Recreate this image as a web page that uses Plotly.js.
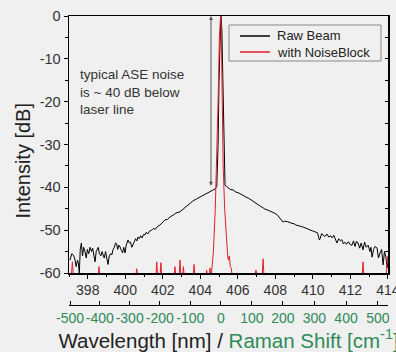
<!DOCTYPE html>
<html>
<head>
<meta charset="utf-8">
<script src="https://cdn.plot.ly/plotly-3.0.1.min.js"></script>
<style>
html,body{margin:0;padding:0;background:#f0f0f0;}
#chart{width:396px;height:352px;}
</style>
</head>
<body>
<div id="chart"></div>
<script>
// Raw Beam spectrum (wavelength nm, intensity dB)
const wlRaw = [397.05,397.15,397.23,397.30,397.38,397.45,397.50,397.55,397.60,397.66,397.72,397.78,397.85,397.92,397.98,398.05,398.12,398.20,398.26,398.32,398.39,398.45,398.50,398.56,398.62,398.70,398.76,398.81,398.88,398.95,399.02,399.08,399.15,399.22,399.28,399.35,399.42,399.48,399.54,399.60,399.66,399.72,399.80,399.86,399.92,399.99,400.05,400.10,400.15,400.22,400.28,400.35,400.41,400.48,400.55,400.62,400.68,400.75,400.82,400.90,400.98,401.05,401.12,401.20,401.30,401.41,401.50,401.60,401.70,401.85,401.95,402.05,402.12,402.25,402.39,402.55,402.70,402.92,403.10,403.25,403.45,403.60,403.80,403.99,404.15,404.30,404.52,404.65,404.79,404.88,404.95,405.00,405.05,405.10,405.15,405.20,405.25,405.32,405.40,405.50,405.60,405.75,405.90,406.05,406.15,406.28,406.45,406.60,406.81,406.95,407.10,407.35,407.45,407.60,407.72,407.85,407.99,408.10,408.25,408.41,408.50,408.65,408.89,409.00,409.10,409.21,409.35,409.50,409.69,409.85,410.00,410.12,410.25,410.35,410.39,410.47,410.55,410.65,410.75,410.85,410.95,411.03,411.12,411.20,411.29,411.38,411.47,411.55,411.63,411.72,411.80,411.90,412.00,412.09,412.17,412.25,412.33,412.41,412.50,412.58,412.68,412.76,412.85,412.95,413.05,413.10,413.16,413.24,413.32,413.43,413.50,413.59,413.67,413.75,413.82,413.90,413.96,414.00];
const dbRaw = [-57.0,-55.5,-55.8,-56.5,-58.5,-57.0,-57.7,-60.0,-54.5,-53.0,-56.0,-54.0,-55.0,-56.5,-54.5,-55.5,-54.0,-55.0,-54.2,-56.0,-57.4,-55.0,-54.6,-54.0,-55.5,-56.0,-55.0,-55.8,-56.5,-55.0,-56.5,-58.0,-56.0,-55.5,-55.8,-54.5,-54.0,-53.0,-53.2,-54.5,-53.5,-53.9,-54.8,-55.3,-54.0,-55.3,-53.5,-52.5,-52.3,-53.0,-52.8,-54.0,-53.5,-52.6,-52.0,-52.5,-51.6,-52.0,-51.3,-51.8,-51.0,-51.1,-50.5,-50.9,-50.2,-50.0,-49.6,-49.8,-49.2,-48.8,-48.3,-48.0,-47.6,-47.5,-46.9,-46.5,-46.0,-45.7,-45.0,-44.5,-43.7,-43.2,-42.7,-42.2,-41.8,-41.4,-41.0,-40.7,-40.4,-39.8,-30.0,-15.0,-3.0,0.0,-3.0,-15.0,-30.0,-39.5,-39.8,-40.2,-40.5,-40.6,-41.1,-41.3,-41.6,-41.8,-42.3,-42.6,-43.3,-43.8,-44.1,-44.8,-45.1,-45.3,-45.5,-45.8,-46.1,-46.4,-47.2,-48.1,-47.9,-48.0,-48.4,-48.5,-48.8,-49.0,-49.1,-49.3,-49.7,-50.0,-50.2,-50.4,-50.6,-52.3,-52.0,-50.8,-51.1,-51.5,-50.9,-51.6,-51.3,-51.8,-51.2,-52.3,-53.0,-52.0,-52.5,-52.2,-53.2,-52.8,-53.3,-52.7,-53.4,-53.5,-52.5,-53.8,-52.6,-53.0,-54.2,-53.0,-54.6,-52.8,-54.0,-53.5,-55.0,-54.0,-56.3,-54.5,-53.8,-54.2,-56.5,-55.3,-54.5,-58.1,-55.0,-56.3,-58.8,-57.5];

// with NoiseBlock spectrum (wavelength nm, intensity dB)
const wlNB = [397.00,397.12,397.18,397.24,398.55,398.60,398.65,400.55,400.61,400.67,401.63,401.68,401.73,401.85,401.90,401.95,402.60,402.65,402.70,402.87,402.92,402.97,403.05,403.10,403.15,403.62,403.67,403.72,404.30,404.34,404.38,404.48,404.52,404.56,404.60,404.70,404.80,404.88,404.95,405.02,405.08,405.12,405.17,405.22,405.30,405.38,405.42,405.46,405.50,405.55,405.60,405.66,405.70,406.90,406.97,407.03,407.30,407.35,407.40,412.63,412.68,412.73,413.90,413.97,414.00];
const dbNB = [-61,-61,-57.4,-61,-61,-58.5,-61,-61,-59,-61,-61,-57.4,-61,-61,-57.6,-61,-61,-58.5,-61,-61,-57,-61,-61,-58.5,-61,-61,-58,-61,-61,-59.3,-61,-61,-58.8,-61,-60,-55,-45,-33.6,-20,-5,0,-3,-20,-35,-45,-52,-54.6,-56,-57,-56,-58.5,-59,-61,-61,-59.3,-61,-61,-56.7,-61,-61,-57.4,-61,-61,-58,-56];

const seriesNames = ["Raw Beam", "with NoiseBlock"];
const seriesColors = ["#000000", "#e0202a"];
const wlTicks = [398,400,402,404,406,408,410,412,414];
const dbTicks = [0,-10,-20,-30,-40,-50,-60];
const ramanShiftTicks = [-500,-400,-300,-200,-100,0,100,200,300,400,500];
const laserWavelength = 405.1; // nm

const ramanTickWl = ramanShiftTicks.map(s => 1e7 / (1e7 / laserWavelength - s));

const font = "'Liberation Sans', Arial, sans-serif";
const green = "#2e8b57";

const traces = [
  {x: wlRaw, y: dbRaw, type: "scatter", mode: "lines", name: seriesNames[0],
   line: {color: seriesColors[0], width: 1}},
  {x: wlNB, y: dbNB, type: "scatter", mode: "lines", name: seriesNames[1],
   line: {color: seriesColors[1], width: 1}},
  {x: [], y: [], xaxis: "x2", yaxis: "y", showlegend: false, hoverinfo: "skip"},
  {x: [], y: [], xaxis: "x", yaxis: "y2", showlegend: false, hoverinfo: "skip"}
];

// hand-placed legend box (paper coords)
const lg = {x0: 0.5016, x1: 0.978, y0: 0.8443, y1: 0.9689, lx0: 0.536, lx1: 0.630, tx: 0.6458, rows: [0.9308, 0.8754]};

const shapes = [
  {type: "rect", xref: "paper", yref: "paper", x0: lg.x0, x1: lg.x1, y0: lg.y0, y1: lg.y1,
   line: {color: "#888", width: 1}, fillcolor: "#f0f0f0", layer: "above"}
];
const annotations = [];
seriesNames.forEach((n, i) => {
  shapes.push({type: "line", xref: "paper", yref: "paper", x0: lg.lx0, x1: lg.lx1, y0: lg.rows[i], y1: lg.rows[i],
    line: {color: seriesColors[i], width: 1.5}, layer: "above"});
  annotations.push({x: lg.tx, y: lg.rows[i], xref: "paper", yref: "paper", xanchor: "left", yanchor: "middle",
    text: n, showarrow: false, font: {family: font, size: 13, color: "#222"}});
});

annotations.push(
  {x: 404.57, y: 0, ax: 404.57, ay: -40, xref: "x", yref: "y", axref: "x", ayref: "y",
   text: "", showarrow: true, arrowhead: 2, startarrowhead: 2, arrowside: "end+start",
   arrowsize: 0.8, arrowwidth: 1, arrowcolor: "#555"},
  {x: 397.5, y: -11.5, xref: "x", yref: "y", xanchor: "left", yanchor: "top",
   text: "typical ASE noise<br>is ~ 40 dB below<br>laser line", showarrow: false, align: "left",
   font: {family: font, size: 13.5, color: "#333"}},
  {x: -0.147, y: 0.5, xref: "paper", yref: "paper", xanchor: "center", yanchor: "middle",
   text: "Intensity [dB]", textangle: -90, showarrow: false,
   font: {family: font, size: 20, color: "#222"}}
);

const layout = {
  width: 396, height: 352,
  paper_bgcolor: "#f0f0f0", plot_bgcolor: "#f0f0f0",
  margin: {l: 69, r: 8, t: 16, b: 47, pad: 0, autoexpand: false},
  font: {family: font, color: "#333", size: 14},
  showlegend: false,
  xaxis: {range: [397, 414.01], autorange: false, tickmode: "array", tickvals: wlTicks, ticktext: wlTicks.map(String),
    showgrid: false, zeroline: false, showline: true, linecolor: "#000", linewidth: 1.5,
    mirror: true, ticks: "outside", ticklen: 4, tickcolor: "#000", tickwidth: 1,
    minor: {tickmode: "array", tickvals: [397,399,401,403,405,407,409,411,413], ticks: "outside", ticklen: 2.5, tickcolor: "#000"},
    tickfont: {size: 14, color: "#333"}, ticklabeloverflow: "allow", anchor: "y"},
  xaxis2: {range: [397, 414.01], autorange: false, overlaying: "x", anchor: "free", position: 0,
    side: "bottom", tickmode: "array", tickvals: ramanTickWl, ticktext: ramanShiftTicks.map(String),
    tickangle: 0, ticklabeloverflow: "allow",
    showgrid: false, zeroline: false, showline: true, linecolor: "#000", linewidth: 1.2,
    ticks: "inside", ticklen: 4, tickcolor: "#000",
    tickfont: {size: 14, color: green},
    title: {text: "Wavelength [nm] / <span style=\"color:" + green + "\">Raman Shift [cm<sup>-1</sup>]</span>",
      font: {family: font, size: 20.5, color: "#222"}, standoff: 3}},
  yaxis: {range: [-60, 0], autorange: false, tickmode: "array", tickvals: dbTicks, ticktext: dbTicks.map(String),
    domain: [0.1107, 1],
    showgrid: false, zeroline: false, showline: true, linecolor: "#000", linewidth: 1.5,
    mirror: true, ticks: "outside", ticklen: 4, tickcolor: "#000",
    minor: {tickmode: "array", tickvals: [-5,-15,-25,-35,-45,-55], ticks: "outside", ticklen: 3, tickcolor: "#000"},
    tickfont: {size: 14.5, color: "#333"}},
  yaxis2: {range: [-60, 0], autorange: false, dtick: 5, overlaying: "y", side: "right",
    showgrid: false, zeroline: false, showline: false, showticklabels: false,
    ticks: "inside", ticklen: 3, tickcolor: "#000"},
  shapes: shapes,
  annotations: annotations
};

Plotly.newPlot("chart", traces, layout, {staticPlot: true, displayModeBar: false});
</script>
</body>
</html>
